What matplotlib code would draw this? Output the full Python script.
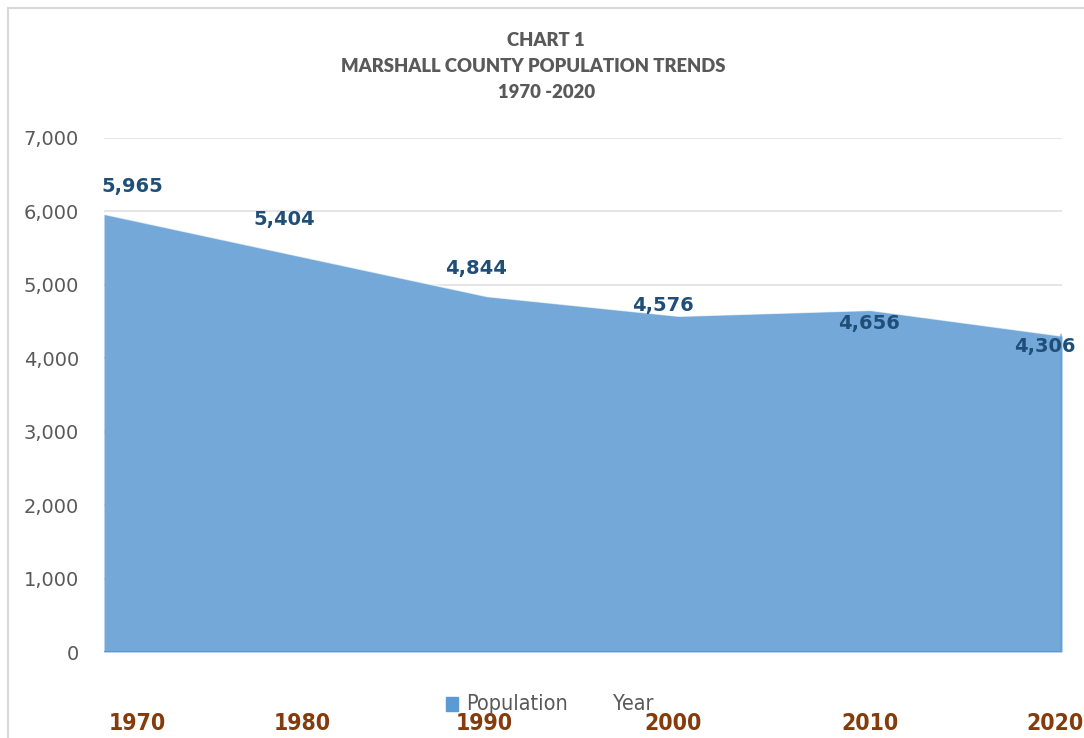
import matplotlib
matplotlib.use("Agg")
import matplotlib.pyplot as plt
from matplotlib.lines import Line2D

years = ["1970", "1980", "1990", "2000", "2010", "2020"]
population = [5965, 5404, 4844, 4576, 4656, 4306]
yticks = [0, 1000, 2000, 3000, 4000, 5000, 6000, 7000]
title_lines = ["CHART 1", "MARSHALL COUNTY POPULATION TRENDS", "1970 -2020"]

# label offsets in pixels (layout only)
label_offsets = [(28, 27), (-11, 36), (-11, 28), (-16, 10), (-1, -13), (-17, -11)]
year_label_x = [137, 302, 484, 673, 870, 1055]
title_pos = [(546, 41), (533, 67), (547, 93)]

W, H = 1084, 738
fig = plt.figure(figsize=(W / 100, H / 100), dpi=100)
fig.patch.set_facecolor("white")

ax = fig.add_axes([104 / W, 86 / H, (1062 - 104) / W, (652 - 138) / H])
x = list(range(len(years)))
ax.fill_between(x, population, 0, color="#73A8D9", zorder=2, linewidth=0)
ax.plot(x, population, color="white", alpha=0.6, lw=1.5, zorder=3)
ax.plot([x[0], x[-1]], [0, 0], color="#5B93CC", lw=2, zorder=3)
ax.plot([x[-1], x[-1]], [0, population[-1]], color="#6399CE", lw=3, alpha=0.6, zorder=3)
ax.set_xlim(0, len(years) - 1)
ax.set_ylim(0, 7000)
ax.set_yticks(yticks)
ax.set_yticklabels([f"{v:,}" for v in yticks], fontsize=14, color="#595959",
                   family="DejaVu Sans")
ax.tick_params(axis="y", length=0, pad=18)
ax.set_xticks([])
for s in ax.spines.values():
    s.set_visible(False)
ax.grid(axis="y", color="#E6E6E6", lw=1.5, zorder=0)
ax.set_axisbelow(True)

for xi, v, (dx, dy) in zip(x, population, label_offsets):
    ax.annotate(f"{v:,}", (xi, v), xytext=(dx * 0.72, dy * 0.72), textcoords="offset points",
                ha="center", va="center", fontsize=14, fontweight="bold",
                color="#1F4E79", family="DejaVu Sans", zorder=5)

for t, (xx, yy) in zip(title_lines, title_pos):
    fig.text(xx / W, 1 - yy / H, t, ha="center", va="center", fontsize=13.3,
             fontweight="heavy", color="#595959", family="Lato")

for lab, xx in zip(years, year_label_x):
    fig.text(xx / W, 1 - 724 / H, lab, ha="center", va="center", fontsize=16.5,
             fontweight="bold", color="#843C0C", family="DejaVu Sans", stretch="condensed")

# legend
fig.patches.append(plt.Rectangle((446 / W, 1 - 711 / H), 12 / W, 14 / H,
                                 transform=fig.transFigure, color="#5B9BD5"))
fig.text(466 / W, 1 - 704 / H, "Population", ha="left", va="center", fontsize=15.5,
         color="#595959", family="DejaVu Sans", stretch="condensed")
fig.text(613 / W, 1 - 704 / H, "Year", ha="left", va="center", fontsize=15.5,
         color="#595959", family="DejaVu Sans", stretch="condensed")

# chart border (top and left visible)
fig.add_artist(Line2D([8 / W, 8 / W], [0, 1 - 8 / H], transform=fig.transFigure,
                      color="#D9D9D9", lw=1.5))
fig.add_artist(Line2D([8 / W, 1], [1 - 8 / H, 1 - 8 / H], transform=fig.transFigure,
                      color="#D9D9D9", lw=1.5))

fig.savefig("out.png", dpi=100)
